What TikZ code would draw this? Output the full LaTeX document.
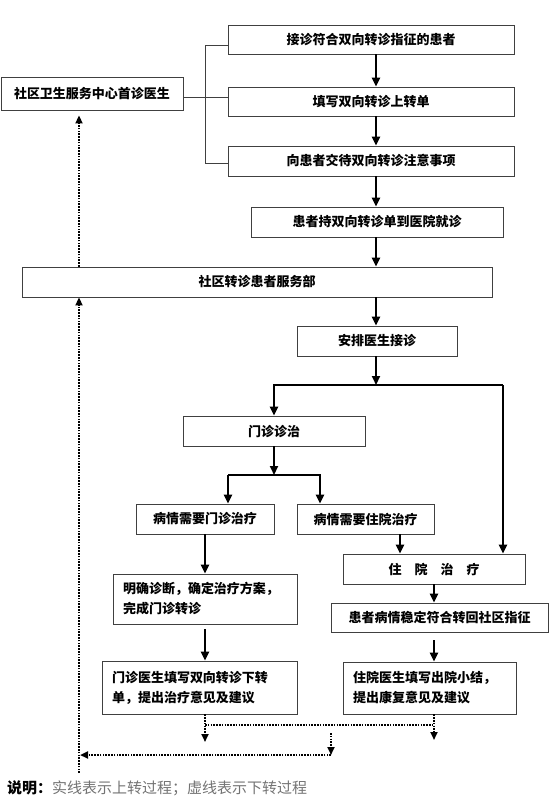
\documentclass[tikz,border=0pt]{standalone}
\usepackage{fontspec}
\setmainfont{Noto Sans CJK SC}
\usetikzlibrary{arrows.meta}
\tikzset{
  box/.style={draw=black!75, line width=0.9pt, inner sep=0pt, font=\bfseries\fontsize{13}{20}\selectfont},
  two/.style={align=left, inner xsep=10pt, inner ysep=0pt},
  upar/.style={-{Triangle[width=8pt,length=9pt]}, line width=2.2pt},
  upln/.style={line width=2.2pt},
  thinln/.style={line width=0.9pt, draw=black!75},
  dnar/.style={-{Triangle[width=7pt,length=8pt]}, line width=2.2pt, dash pattern=on 1.6pt off 1.2pt},
  dnln/.style={line width=2.2pt, dash pattern=on 1.6pt off 1.2pt}
}
\begin{document}
\begin{tikzpicture}[x=1pt,y=-1pt]
\useasboundingbox (0,0) rectangle (550,807);
% boxes
\node[box, minimum width=182pt, minimum height=33pt] (gp) at (92,93.5) {社区卫生服务中心首诊医生};
\node[box, minimum width=286pt, minimum height=29pt] (acc) at (371,39.5) {接诊符合双向转诊指征的患者};
\node[box, minimum width=286pt, minimum height=29pt] (upf) at (371,101.5) {填写双向转诊上转单};
\node[box, minimum width=286pt, minimum height=30pt] (tell) at (371,161) {向患者交待双向转诊注意事项};
\node[box, minimum width=252pt, minimum height=30pt] (go) at (377,222) {患者持双向转诊单到医院就诊};
\node[box, minimum width=470pt, minimum height=30pt] (dep) at (257,282) {社区转诊患者服务部};
\node[box, minimum width=160pt, minimum height=30pt] (doc) at (377,341) {安排医生接诊};
\node[box, minimum width=182pt, minimum height=30pt] (opd) at (274,431) {门诊诊治};
\node[box, minimum width=138pt, minimum height=30pt] (nop) at (205,519) {病情需要门诊治疗};
\node[box, minimum width=137pt, minimum height=30pt] (nip) at (365.5,519) {病情需要住院治疗};
\node[box, minimum width=182pt, minimum height=30pt] (hos) at (434,569) {住\hspace{1em}院\hspace{1em}治\hspace{1em}疗};
\node[box, minimum width=217pt, minimum height=29pt] (sta) at (439.5,617.5) {患者病情稳定符合转回社区指征};
\node[box, two, text width=164pt, minimum height=50pt] (dia) at (205,599) {明确诊断，确定治疗方案，\\完成门诊转诊};
\node[box, two, text width=175pt, minimum height=53pt] (ofm) at (199.5,687.5) {门诊医生填写双向转诊下转\\单，提出治疗意见及建议};
\node[box, two, text width=153pt, minimum height=52pt] (dis) at (429.5,688) {住院医生填写出院小结，\\提出康复意见及建议};
\node[anchor=west, inner sep=0pt, font=\fontsize{15}{15}\selectfont] (note) at (7,788) {\textbf{说明：}\textcolor{black!55}{实线表示上转过程；虚线表示下转过程}};
% junctions
\coordinate (b1) at (205,45);
\coordinate (b2) at (205,97);
\coordinate (b3) at (205,163);
\coordinate (sp) at (376,0);
\coordinate (j1) at (376,385);
\coordinate (rj) at (503,385);
\coordinate (j2) at (274,475);
\coordinate (l2) at (228,475);
\coordinate (r2) at (320,475);
\coordinate (xin) at (400,0);
\coordinate (xr) at (434,0);
\coordinate (h1) at (205,725);
\coordinate (h2) at (434,725);
\coordinate (d1) at (205,742);
\coordinate (d2) at (434,740);
\coordinate (m1) at (331,733);
\coordinate (m2) at (331,755);
\coordinate (m3) at (80,755);
\coordinate (v0) at (79,773);
% bracket
\draw[thinln] (acc.west |- b1) -- (b1) -- (b3) -- (tell.west |- b3);
\draw[thinln] (gp.east |- b2) -- (upf.west |- b2);
% upward transfer
\draw[upar] (acc.south -| sp) -- (upf.north -| sp);
\draw[upar] (upf.south -| sp) -- (tell.north -| sp);
\draw[upar] (tell.south -| sp) -- (go.north -| sp);
\draw[upar] (go.south -| sp) -- (dep.north -| sp);
\draw[upar] (dep.south -| sp) -- (doc.north -| sp);
\draw[upar] (doc.south -| sp) -- (j1);
\draw[upar] (rj) -- (opd.north |- rj) -- (opd.north);
\draw[upar] (rj) -- (hos.north -| rj);
\draw[upar] (opd.south) -- (j2);
\draw[upar] (l2) -- (r2) -- (nip.north -| r2);
\draw[upar] (l2) -- (nop.north -| l2);
\draw[upar] (nip.south -| xin) -- (hos.north -| xin);
\draw[upar] (nop.south) -- (dia.north);
\draw[upar] ([yshift=-5pt]dia.south) -- (ofm.north -| dia.south);
\draw[upar] (hos.south -| xr) -- (sta.north -| xr);
\draw[upar] ([yshift=-8pt]sta.south -| xr) -- (dis.north -| xr);
% downward transfer
\draw[dnar] (ofm.south -| d1) -- (d1);
\draw[dnar] (dis.south -| d2) -- (d2);
\draw[dnln] (h1) -- (h2);
\draw[dnar] (m1) -- (m2);
\draw[dnar] (m2) -- (m3);
\draw[dnar] (v0) -- (dep.south -| v0);
\draw[dnar] (dep.north -| v0) -- ([yshift=-5pt]gp.south -| v0);
\end{tikzpicture}
\end{document}
